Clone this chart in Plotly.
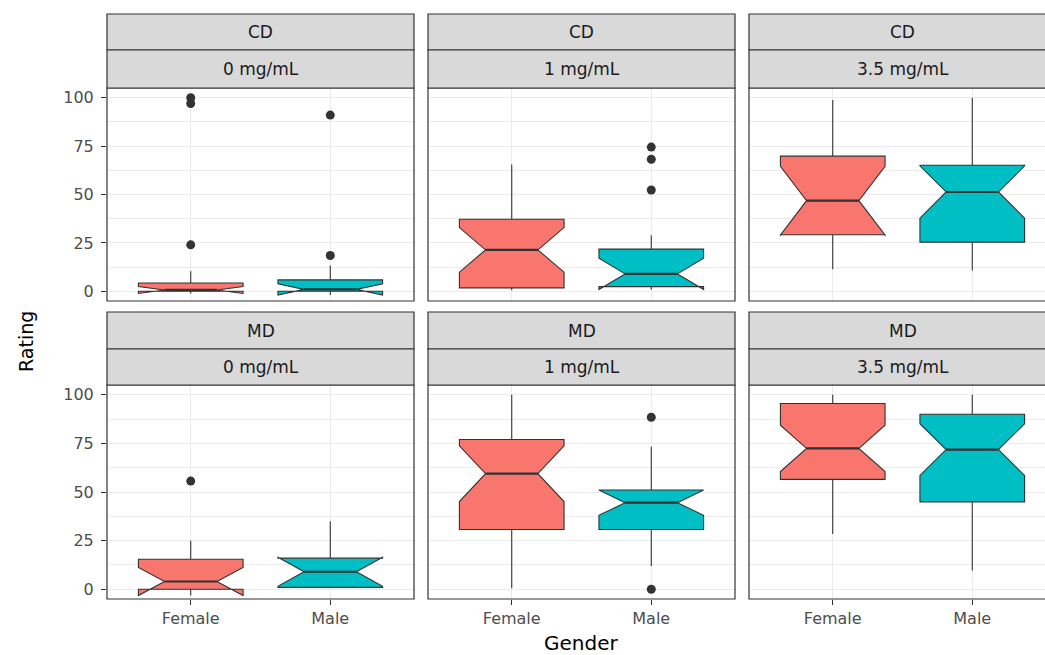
import plotly.graph_objects as go

# ---------------- data ----------------
genders = ["Female", "Male"]
groups = ["CD", "MD"]
doses = ["0 mg/mL", "1 mg/mL", "3.5 mg/mL"]

# panel order: CD-0, CD-1, CD-3.5, MD-0, MD-1, MD-3.5
female_q1 = [0, 1.8, 29.2, 0, 30.7, 56.5]
female_median = [0.7, 21.4, 46.8, 4.0, 59.4, 72.4]
female_q3 = [4.3, 37.2, 69.8, 15.4, 77.0, 95.5]
female_lower = [0, 0.5, 11.4, 0, 0.5, 28.4]
female_upper = [10.4, 65.5, 98.8, 25.0, 100, 100]
female_notch = [1.8, 11.5, 17.8, 7.2, 14.3, 11.9]
female_outliers = [[100, 97, 24], [], [], [55.6], [], []]

male_q1 = [0, 2.4, 25.4, 1.0, 30.7, 44.9]
male_median = [1.0, 9.0, 51.3, 9.0, 44.5, 71.8]
male_q3 = [5.9, 21.8, 65.1, 16.0, 51.0, 90.0]
male_lower = [0, 0.8, 10.7, 1.0, 12.0, 9.7]
male_upper = [13.3, 28.9, 100, 35.0, 73.2, 100]
male_notch = [2.9, 8.1, 13.5, 7.5, 6.5, 13.3]
male_outliers = [[91, 18.5], [74.5, 68.2, 52.3], [], [], [88.4, 0], []]

y_ticks = [0, 25, 50, 75, 100]
y_minor = [12.5, 37.5, 62.5, 87.5]

# ---------------- style ----------------
W, H = 1045, 655
FILL = {"Female": "#F8766D", "Male": "#00BFC4"}
DARK = "#333333"
GRID = "#EBEBEB"
FONT = "DejaVu Sans"
BOX_W = 0.75

col_px = [(107, 414), (428, 735), (749, 1056)]
row_px = [(14, 50, 88, 301), (312, 349, 385, 599)]

stats = {
    "Female": (female_q1, female_median, female_q3, female_lower, female_upper, female_notch, female_outliers),
    "Male": (male_q1, male_median, male_q3, male_lower, male_upper, male_notch, male_outliers),
}

fig = go.Figure()
shapes = []
annotations = []

for r, grp in enumerate(groups):
    st, sm, pt, pb = row_px[r]
    for c, dose in enumerate(doses):
        i = r * 3 + c
        k = i + 1
        xs = "x" if k == 1 else f"x{k}"
        ys = "y" if k == 1 else f"y{k}"
        x0, x1 = col_px[c]
        vis_x1 = min(x1, W)
        xr1 = 0.4 + 2.2 * (vis_x1 - x0) / (x1 - x0)
        fig.layout[f"xaxis{k}"] = dict(
            domain=[x0 / W, vis_x1 / W], range=[0.4, xr1], anchor=ys,
            tickmode="array", tickvals=[1, 2], ticktext=genders,
            showticklabels=(r == 1), ticks="outside" if r == 1 else "",
            ticklen=5, tickcolor=DARK, tickwidth=1,
            tickfont=dict(family=FONT, size=16, color="#4D4D4D"),
            showgrid=True, gridcolor=GRID, gridwidth=1,
            zeroline=False, showline=False, fixedrange=True,
        )
        fig.layout[f"yaxis{k}"] = dict(
            domain=[1 - pb / H, 1 - pt / H], range=[-5, 105], anchor=xs,
            tickmode="array", tickvals=y_ticks,
            showticklabels=(c == 0), ticks="outside" if c == 0 else "",
            ticklen=5, tickcolor=DARK, tickwidth=1, ticklabelstandoff=4,
            tickfont=dict(family=FONT, size=16, color="#4D4D4D"),
            showgrid=True, gridcolor=GRID, gridwidth=1,
            minor=dict(tickmode="array", tickvals=y_minor, showgrid=True,
                       gridcolor=GRID, gridwidth=0.5, ticks=""),
            zeroline=False, showline=False, fixedrange=True,
        )
        for g, gender in enumerate(genders):
            q1, med, q3, lo, up, nsp, outs = stats[gender]
            pos = g + 1
            fig.add_trace(go.Box(
                x=[pos], q1=[q1[i]], median=[med[i]], q3=[q3[i]],
                lowerfence=[lo[i]], upperfence=[up[i]], notchspan=[nsp[i]],
                notched=True, notchwidth=0.25, width=BOX_W, whiskerwidth=0,
                orientation="v", boxpoints=False,
                fillcolor=FILL[gender], line=dict(color=DARK, width=1.1),
                xaxis=xs, yaxis=ys, showlegend=False, hoverinfo="skip",
            ))
            fig.add_trace(go.Scatter(
                x=[pos - BOX_W / 4, pos + BOX_W / 4], y=[med[i], med[i]],
                mode="lines", line=dict(color=DARK, width=2.2),
                xaxis=xs, yaxis=ys, showlegend=False, hoverinfo="skip",
            ))
            if outs[i]:
                fig.add_trace(go.Scatter(
                    x=[pos] * len(outs[i]), y=outs[i], mode="markers",
                    marker=dict(color=DARK, size=9),
                    xaxis=xs, yaxis=ys, showlegend=False, hoverinfo="skip",
                ))
        # panel border
        shapes.append(dict(type="rect", xref="paper", yref="paper",
                           x0=x0 / W, x1=x1 / W, y0=1 - pb / H, y1=1 - pt / H,
                           line=dict(color=DARK, width=1.2), fillcolor="rgba(0,0,0,0)",
                           layer="above"))
        # strips
        for (a, b, label) in [(st, sm, grp), (sm, pt, dose)]:
            shapes.append(dict(type="rect", xref="paper", yref="paper",
                               x0=x0 / W, x1=x1 / W, y0=1 - b / H, y1=1 - a / H,
                               line=dict(color=DARK, width=1.2), fillcolor="#D9D9D9",
                               layer="above"))
            annotations.append(dict(text=label, xref="paper", yref="paper",
                                    x=(x0 + x1) / 2 / W, y=1 - (a + b) / 2 / H,
                                    xanchor="center", yanchor="middle", showarrow=False,
                                    font=dict(family=FONT, size=17, color="#1A1A1A")))

annotations.append(dict(text="Gender", xref="paper", yref="paper",
                        x=581 / W, y=1 - 643 / H, xanchor="center", yanchor="middle",
                        showarrow=False, font=dict(family=FONT, size=20, color="black")))
annotations.append(dict(text="Rating", xref="paper", yref="paper",
                        x=26 / W, y=1 - 342 / H, xanchor="center", yanchor="middle",
                        textangle=-90, showarrow=False,
                        font=dict(family=FONT, size=19, color="black")))

fig.update_layout(
    width=W, height=H, margin=dict(l=0, r=0, t=0, b=0),
    paper_bgcolor="white", plot_bgcolor="white",
    shapes=shapes, annotations=annotations, showlegend=False,
    boxmode="overlay",
)

fig.write_html("out.html", config={"displayModeBar": False},
               post_script="document.body.style.margin='0';document.body.style.overflow='hidden';")
